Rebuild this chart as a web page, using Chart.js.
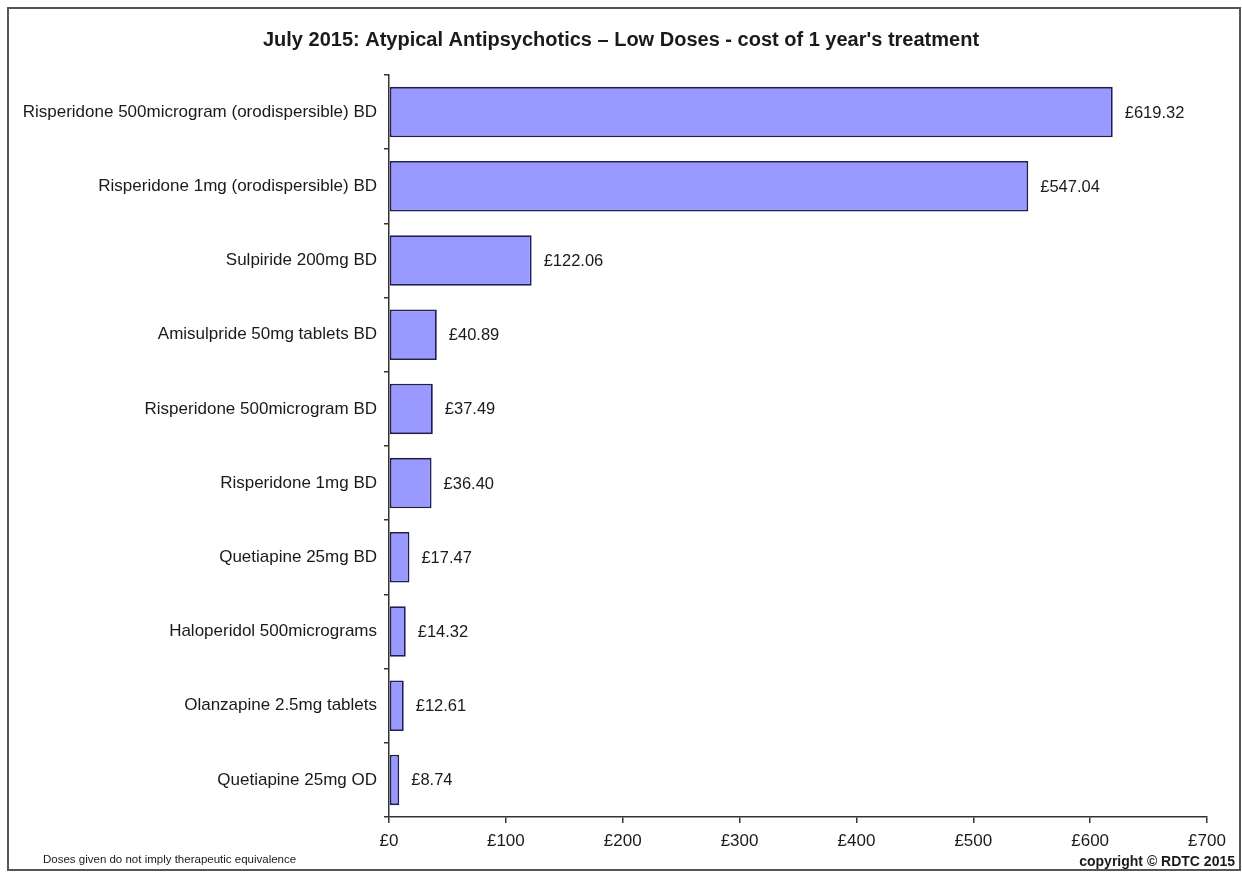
<!DOCTYPE html>
<html><head><meta charset="utf-8">
<script src="https://cdn.jsdelivr.net/npm/chart.js@4.4.0/dist/chart.umd.min.js"></script>
<style>html,body{margin:0;padding:0;background:#fff}#wrap{width:1242px;height:873px;position:relative}</style>
</head><body><div id="wrap"><canvas id="c" width="1242" height="873"></canvas></div>
<script>
const categories = [
  "Risperidone 500microgram (orodispersible) BD",
  "Risperidone 1mg (orodispersible) BD",
  "Sulpiride 200mg BD",
  "Amisulpride 50mg tablets BD",
  "Risperidone 500microgram BD",
  "Risperidone 1mg BD",
  "Quetiapine 25mg BD",
  "Haloperidol 500micrograms",
  "Olanzapine 2.5mg tablets",
  "Quetiapine 25mg OD"
];
const costs = [619.32, 547.04, 122.06, 40.89, 37.49, 36.40, 17.47, 14.32, 12.61, 8.74];
const xTicks = [0, 100, 200, 300, 400, 500, 600, 700];
const titleText = "July 2015: Atypical Antipsychotics \u2013 Low Doses - cost of 1 year's treatment";
const footnote = "Doses given do not imply therapeutic equivalence";
const copyrightText = "copyright \u00A9 RDTC 2015";

const FONT = "'Liberation Sans', Arial, sans-serif";

const decor = {
  id: 'decor',
  beforeDraw(chart) {
    const ctx = chart.ctx;
    ctx.save();
    ctx.fillStyle = '#fff';
    ctx.fillRect(0, 0, chart.width, chart.height);
    ctx.strokeStyle = '#555';
    ctx.lineWidth = 2;
    ctx.strokeRect(8, 8, 1232, 862);
    ctx.restore();
  },
  afterDraw(chart) {
    const ctx = chart.ctx;
    ctx.save();
    ctx.fillStyle = '#1a1a1a';
    ctx.font = "bold 20px " + FONT;
    ctx.textAlign = 'center';
    ctx.textBaseline = 'middle';
    ctx.fillText(titleText, 621, 40);
    ctx.font = "11.5px " + FONT;
    ctx.textAlign = 'left';
    ctx.fillText(footnote, 43, 860);
    ctx.font = "bold 14px " + FONT;
    ctx.textAlign = 'right';
    ctx.fillText(copyrightText, 1235, 862);
    // value labels
    const meta = chart.getDatasetMeta(0);
    ctx.font = "16.5px " + FONT;
    ctx.textAlign = 'left';
    ctx.fillStyle = '#1a1a1a';
    meta.data.forEach((bar, i) => {
      ctx.fillText('\u00A3' + costs[i].toFixed(2), bar.x + 12, bar.y + 1);
    });
    ctx.restore();
  }
};

new Chart(document.getElementById('c'), {
  type: 'bar',
  data: {
    labels: categories,
    datasets: [{
      data: costs,
      backgroundColor: '#9999FF',
      borderColor: '#1f1f55',
      borderWidth: 1.8,
      borderSkipped: false,
      barPercentage: 0.68,
      categoryPercentage: 1.0
    }]
  },
  options: {
    indexAxis: 'y',
    responsive: false,
    animation: false,
    devicePixelRatio: 1,
    layout: { padding: { left: 0, top: 75, right: 35, bottom: 0 } },
    plugins: { legend: { display: false }, tooltip: { enabled: false }, title: { display: false } },
    scales: {
      x: {
        type: 'linear',
        min: 0, max: 700,
        afterFit(s) { s.height = 56; },
        afterBuildTicks(s) { s.ticks = xTicks.map(v => ({ value: v })); },
        border: { display: true, color: '#333', width: 1.5 },
        grid: { drawOnChartArea: false, drawTicks: true, tickLength: 6, color: '#333', lineWidth: 1.5 },
        ticks: {
          color: '#1a1a1a', padding: 8,
          font: { family: FONT, size: 17 },
          callback: v => '\u00A3' + v
        }
      },
      y: {
        afterFit(s) { s.width = 389; },
        border: { display: true, color: '#333', width: 1.5 },
        grid: { drawOnChartArea: false, drawTicks: true, tickLength: 5, color: '#333', lineWidth: 1.5, offset: true },
        ticks: {
          color: '#1a1a1a', padding: 7,
          font: { family: FONT, size: 17 }
        }
      }
    }
  },
  plugins: [decor]
});
</script></body></html>
